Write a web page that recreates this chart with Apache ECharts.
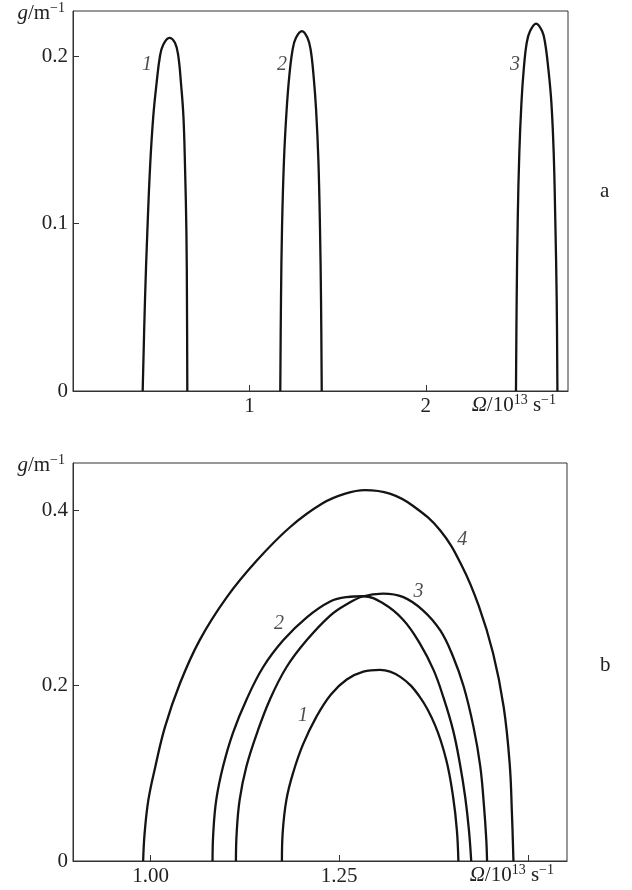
<!DOCTYPE html>
<html>
<head>
<meta charset="utf-8">
<script src="https://cdn.jsdelivr.net/npm/echarts@6/dist/echarts.min.js"></script>
<style>
  html, body { margin: 0; padding: 0; background: #fff; }
  #chart { width: 632px; height: 890px; }
</style>
</head>
<body>
<div id="chart"></div>
<script>
// panel a: g (1/m) vs Omega (10^13 1/s), three narrow gain bands
const curveA1 = [[0.395,0],[0.408,0.054],[0.421,0.094],[0.437,0.134],[0.455,0.164],[0.474,0.184],[0.493,0.200],[0.512,0.207],[0.546,0.211],[0.578,0.208],[0.597,0.200],[0.612,0.184],[0.626,0.164],[0.635,0.134],[0.643,0.094],[0.646,0.054],[0.648,0]];
const curveA2 = [[1.175,0],[1.179,0.054],[1.185,0.098],[1.196,0.138],[1.211,0.168],[1.226,0.188],[1.245,0.204],[1.264,0.211],[1.298,0.215],[1.329,0.211],[1.347,0.204],[1.364,0.188],[1.378,0.168],[1.391,0.138],[1.400,0.098],[1.406,0.054],[1.410,0]];
const curveA3 = [[2.511,0],[2.515,0.054],[2.521,0.102],[2.530,0.142],[2.542,0.172],[2.555,0.192],[2.572,0.208],[2.591,0.215],[2.625,0.2195],[2.659,0.215],[2.676,0.208],[2.695,0.192],[2.712,0.172],[2.725,0.142],[2.734,0.102],[2.742,0.054],[2.746,0]];

// panel b: four nested gain curves
const curveB1 = [[1.174,0],[1.175,0.032],[1.180,0.070],[1.189,0.101],[1.202,0.133],[1.220,0.165],[1.239,0.190],[1.260,0.207],[1.282,0.216],[1.304,0.218],[1.331,0.210],[1.357,0.187],[1.377,0.155],[1.392,0.115],[1.401,0.073],[1.406,0.035],[1.408,0]];
const curveB2 = [[1.082,0],[1.083,0.032],[1.087,0.070],[1.096,0.108],[1.109,0.146],[1.127,0.184],[1.149,0.221],[1.176,0.252],[1.207,0.278],[1.238,0.296],[1.260,0.301],[1.282,0.302],[1.308,0.294],[1.335,0.275],[1.357,0.248],[1.375,0.218],[1.388,0.187],[1.401,0.149],[1.410,0.111],[1.417,0.073],[1.422,0.035],[1.425,0]];
const curveB3 = [[1.113,0],[1.114,0.032],[1.118,0.070],[1.127,0.108],[1.141,0.146],[1.158,0.184],[1.180,0.221],[1.207,0.252],[1.238,0.280],[1.260,0.293],[1.282,0.302],[1.308,0.305],[1.335,0.301],[1.361,0.286],[1.384,0.263],[1.401,0.233],[1.415,0.199],[1.428,0.153],[1.437,0.108],[1.442,0.062],[1.445,0.024],[1.446,0]];
const curveB4 = [[0.990,0],[0.992,0.032],[0.997,0.070],[1.006,0.107],[1.019,0.153],[1.039,0.203],[1.065,0.252],[1.101,0.301],[1.141,0.343],[1.185,0.381],[1.228,0.408],[1.258,0.419],[1.284,0.423],[1.317,0.419],[1.348,0.405],[1.384,0.377],[1.413,0.336],[1.435,0.291],[1.454,0.237],[1.468,0.176],[1.476,0.111],[1.479,0.054],[1.481,0]];

// curve numbers: [text, x, y]
const curveNamesA = [['1',0.42,0.195],['2',1.185,0.195],['3',2.506,0.195]];
const curveNamesB = [['1',1.202,0.166],['2',1.170,0.271],['3',1.355,0.307],['4',1.413,0.366]];

// ticks
const ticksAX = [1, 2];
const ticksAY = [0.1, 0.2];
const labelsAY = [0, 0.1, 0.2];
const ticksBX = [1.00, 1.25, 1.50];
const labelsBX = [1.00, 1.25];
const ticksBY = [0.2, 0.4];
const labelsBY = [0, 0.2, 0.4];

const FONT = 'Liberation Serif';
const INK = '#141414';
const AXIS = '#333';
const TEXT = '#222';

const rich = {
  r: { fontFamily: FONT, fontSize: 21, color: TEXT, lineHeight: 24 },
  i: { fontFamily: FONT, fontSize: 21, fontStyle: 'italic', color: TEXT, lineHeight: 24 },
  sup: { fontFamily: FONT, fontSize: 14, color: TEXT, verticalAlign: 'top', lineHeight: 13 }
};
const xName = '{i|Ω}{r|/10}{sup|13}{r| s}{sup|−1}';
const yName = '{i|g}{r|/m}{sup|−1}';

const fmt = d => v => (v === 0 ? '0' : v.toFixed(d));

function xAxis(gridIndex, min, max, ticks, labels, digits, gap) {
  return {
    type: 'value', gridIndex, min, max,
    axisLine: { show: true, lineStyle: { color: AXIS, width: 1 } },
    axisTick: { show: true, inside: true, length: 6, customValues: ticks, lineStyle: { color: AXIS } },
    axisLabel: { customValues: labels, formatter: fmt(digits), fontFamily: FONT, fontSize: 21, color: TEXT, margin: 5 },
    splitLine: { show: false },
    name: xName, nameLocation: 'end', nameGap: gap, nameMoveOverlap: false,
    nameTextStyle: { align: 'right', verticalAlign: 'top', padding: [2, 0, 0, 0], rich }
  };
}
function yAxis(gridIndex, min, max, ticks, labels, digits) {
  return {
    type: 'value', gridIndex, min, max,
    axisLine: { show: true, lineStyle: { color: AXIS, width: 1 } },
    axisTick: { show: true, inside: true, length: 6, customValues: ticks, lineStyle: { color: AXIS } },
    axisLabel: { customValues: labels, formatter: fmt(digits), fontFamily: FONT, fontSize: 21, color: TEXT, margin: 5 },
    splitLine: { show: false },
    name: yName, nameLocation: 'end', nameGap: -2, nameMoveOverlap: false,
    nameTextStyle: { align: 'right', verticalAlign: 'middle', padding: [0, 8, 0, 0], rich }
  };
}
function curve(data, idx) {
  return {
    type: 'line', xAxisIndex: idx, yAxisIndex: idx, data,
    showSymbol: false, smooth: 0.4, silent: true,
    lineStyle: { color: INK, width: 2.3 }
  };
}
function names(data, idx) {
  return {
    type: 'scatter', xAxisIndex: idx, yAxisIndex: idx, silent: true,
    data: data.map(d => [d[1], d[2], d[0]]),
    symbolSize: 1, itemStyle: { color: 'rgba(0,0,0,0)' },
    label: {
      show: true, position: 'inside', formatter: p => p.data[2],
      fontFamily: FONT, fontSize: 20, fontStyle: 'italic', color: TEXT
    }
  };
}

const chart = echarts.init(document.getElementById('chart'), null, { renderer: 'canvas' });
chart.setOption({
  animation: false,
  backgroundColor: '#fff',
  grid: [
    { left: 73, top: 11, right: 64, bottom: 499, show: true, borderColor: AXIS, borderWidth: 1, outerBoundsMode: 'none' },
    { left: 73, top: 463, right: 65, bottom: 29, show: true, borderColor: AXIS, borderWidth: 1, outerBoundsMode: 'none' }
  ],
  xAxis: [
    xAxis(0, 0, 2.806, ticksAX, ticksAX, 0, -12),
    xAxis(1, 0.897, 1.552, ticksBX, labelsBX, 2, -13)
  ],
  yAxis: [
    yAxis(0, 0, 0.227, ticksAY, labelsAY, 1),
    yAxis(1, 0, 0.454, ticksBY, labelsBY, 1)
  ],
  graphic: [
    { type: 'text', left: 600, top: 181, style: { text: 'a', font: '21px "Liberation Serif"', fill: TEXT } },
    { type: 'text', left: 600, top: 655, style: { text: 'b', font: '21px "Liberation Serif"', fill: TEXT } }
  ],
  series: [
    curve(curveA1, 0), curve(curveA2, 0), curve(curveA3, 0),
    curve(curveB1, 1), curve(curveB2, 1), curve(curveB3, 1), curve(curveB4, 1),
    names(curveNamesA, 0), names(curveNamesB, 1)
  ]
});
window.addEventListener('resize', chart.resize);
</script>
</body>
</html>
